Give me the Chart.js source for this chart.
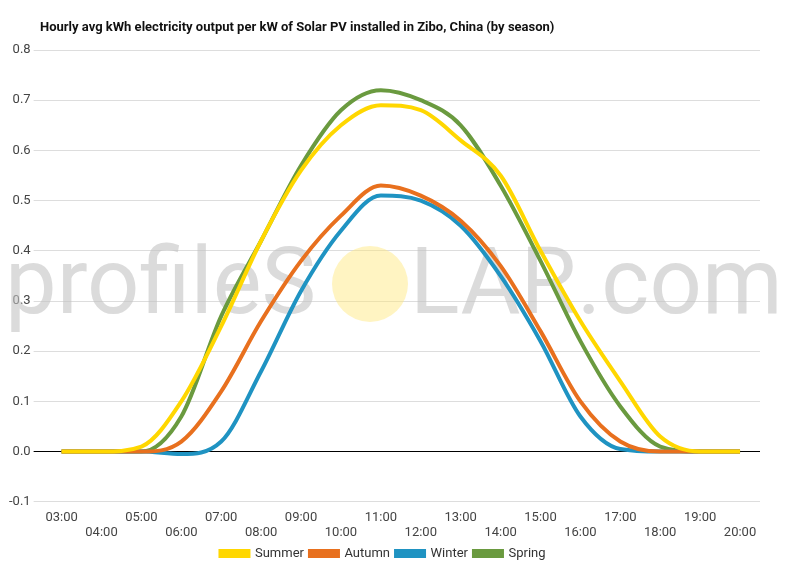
<!DOCTYPE html>
<html><head><meta charset="utf-8">
<script src="https://cdn.jsdelivr.net/npm/chart.js@4"></script>
<style>body{margin:0;background:#fff}#wrap{width:800px;height:570px;position:relative}</style>
</head><body><div id="wrap"><canvas id="c"></canvas></div>
<script>
// Data
const hours = ['03:00','04:00','05:00','06:00','07:00','08:00','09:00','10:00','11:00','12:00','13:00','14:00','15:00','16:00','17:00','18:00','19:00','20:00'];
const summer = [0,0,0.01,0.1,0.25,0.42,0.56,0.65,0.69,0.68,0.62,0.55,0.40,0.26,0.14,0.03,0,0];
const autumn = [0,0,0,0.02,0.12,0.26,0.38,0.47,0.53,0.51,0.46,0.37,0.24,0.10,0.02,0,0,0];
const winter = [0,0,0,-0.005,0.02,0.16,0.32,0.44,0.51,0.50,0.45,0.35,0.22,0.07,0.005,0,0,0];
const spring = [0,0,0,0.07,0.27,0.42,0.57,0.68,0.72,0.70,0.65,0.53,0.38,0.22,0.09,0.01,0,0];
const yTicks = [0.8,0.7,0.6,0.5,0.4,0.3,0.2,0.1,0.0,-0.1];
const titleText = 'Hourly avg kWh electricity output per kW of Solar PV installed in Zibo, China (by season)';

const watermark = {
    id: 'watermark',
    beforeDatasetsDraw(chart) {
        const ctx = chart.ctx;
        ctx.save();
        ctx.fillStyle = 'rgba(255,230,120,0.45)';
        ctx.beginPath();
        ctx.arc(370, 284, 38, 0, Math.PI * 2);
        ctx.fill();
        ctx.fillStyle = 'rgba(195,195,195,0.6)';
        ctx.font = '92px Roboto, sans-serif';
        ctx.textBaseline = 'middle';
        ctx.fillText('profileS', 5, 290);
        ctx.fillText('LAR.com', 410, 290);
        ctx.restore();
    },
    afterDraw(chart) {
        const ctx = chart.ctx;
        ctx.save();
        ctx.fillStyle = '#111';
        ctx.font = 'bold 13px Roboto, sans-serif';
        ctx.textBaseline = 'middle';
        ctx.fillText(titleText, 40, 28);
        ctx.restore();
    }
};

const mk = (label, data, color) => ({
    label, data, borderColor: color, backgroundColor: color,
    borderWidth: 4, pointRadius: 0, tension: 0.4, cubicInterpolationMode: 'monotone'
});

new Chart(document.getElementById('c'), {
    type: 'line',
    data: {
        labels: hours.map((h, i) => i % 2 === 0 ? [h, ''] : ['', h]),
        datasets: [
            mk('Summer', summer, '#ffd700'),
            mk('Autumn', autumn, '#e8701e'),
            mk('Winter', winter, '#1f93c2'),
            mk('Spring', spring, '#6a9a3f')
        ]
    },
    options: {
        responsive: true, maintainAspectRatio: false, animation: false,
        layout: { padding: { left: 6, right: 40, top: 50, bottom: 0 } },
        plugins: {
            legend: {
                position: 'bottom',
                labels: { boxWidth: 28, boxHeight: 5, color: '#333', font: { family: 'Roboto', size: 13 }, padding: 6 }
            }
        },
        scales: {
            x: {
                offset: true,
                grid: { display: false },
                border: { display: false },
                ticks: { color: '#444', font: { family: 'Roboto', size: 13 }, maxRotation: 0, autoSkip: false, padding: 0 }
            },
            y: {
                min: -0.1, max: 0.8,
                afterBuildTicks: a => { a.ticks = yTicks.map(v => ({ value: v })); },
                border: { display: false },
                grid: { color: c => c.tick.value === 0 ? '#000' : '#ddd' },
                ticks: { color: '#444', font: { family: 'Roboto', size: 13 }, callback: v => v.toFixed(1) }
            }
        }
    },
    plugins: [watermark]
});
</script></body></html>
